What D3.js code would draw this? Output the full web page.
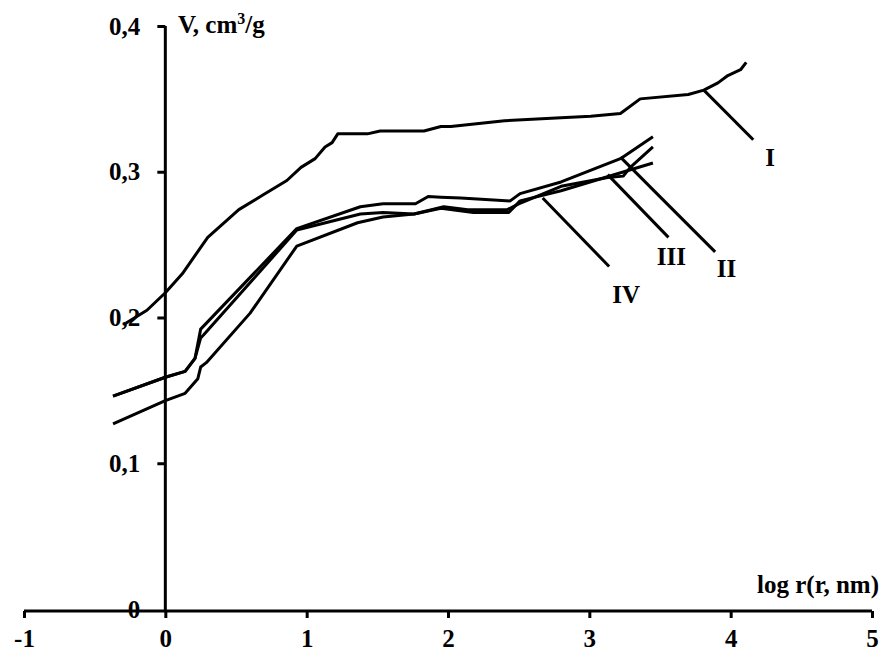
<!DOCTYPE html>
<html>
<head>
<meta charset="utf-8">
<script src="https://cdn.jsdelivr.net/npm/d3@7"></script>
<style>
  body { margin: 0; background: #fff; }
  svg text { font-family: "Liberation Serif", "Times New Roman", serif; font-weight: bold; }
</style>
</head>
<body>
<svg id="chart" width="882" height="655"></svg>
<script>
// curve data (x = log r, y = V in cm3/g)
const xI = [-0.28, -0.13, 0, 0.12, 0.3, 0.52, 0.69, 0.86, 0.96, 1.06, 1.13, 1.18, 1.22, 1.43, 1.52, 1.83, 1.95, 2.02, 2.4, 2.8, 3.01, 3.22, 3.36, 3.7, 3.81, 3.91, 3.98, 4.07, 4.11];
const yI = [0.196, 0.205, 0.217, 0.230, 0.255, 0.274, 0.284, 0.294, 0.303, 0.309, 0.317, 0.320, 0.326, 0.326, 0.328, 0.328, 0.331, 0.331, 0.335, 0.337, 0.338, 0.340, 0.350, 0.353, 0.356, 0.361, 0.366, 0.370, 0.375];

const xII = [-0.37, 0, 0.14, 0.21, 0.25, 0.93, 1.38, 1.54, 1.77, 1.86, 1.95, 2.09, 2.44, 2.51, 2.8, 3.22, 3.45];
const yII = [0.146, 0.159, 0.163, 0.172, 0.192, 0.261, 0.276, 0.278, 0.278, 0.283, 0.2825, 0.282, 0.280, 0.285, 0.293, 0.309, 0.324];

const xIII = [-0.37, 0, 0.14, 0.21, 0.25, 0.27, 0.93, 1.38, 1.54, 1.76, 1.97, 2.14, 2.42, 2.5, 2.8, 3.13, 3.24, 3.29, 3.45];
const yIII = [0.146, 0.159, 0.163, 0.172, 0.186, 0.188, 0.260, 0.271, 0.272, 0.271, 0.276, 0.274, 0.274, 0.278, 0.290, 0.296, 0.297, 0.303, 0.317];

const xIV = [-0.37, 0, 0.14, 0.23, 0.25, 0.29, 0.6, 0.93, 1.36, 1.54, 1.76, 1.95, 2.18, 2.43, 2.51, 2.8, 3.45];
const yIV = [0.127, 0.143, 0.148, 0.158, 0.166, 0.169, 0.203, 0.249, 0.265, 0.269, 0.271, 0.275, 0.272, 0.272, 0.280, 0.287, 0.306];

const curveNames = ["I", "II", "III", "IV"];
// leader lines: [x1, y1, x2, y2] and label spot [x, y], in data units
const leaderLines = [[3.81, 0.356, 4.16, 0.322], [3.22, 0.310, 3.89, 0.245], [3.13, 0.298, 3.56, 0.255], [2.67, 0.282, 3.14, 0.235]];
const labelSpots = [[4.28, 0.310], [3.97, 0.234], [3.58, 0.242], [3.26, 0.216]];

const xTicks = [-1, 0, 1, 2, 3, 4, 5];
const yTicks = [0, 0.1, 0.2, 0.3, 0.4];

const svg = d3.select("#chart");
const x = d3.scaleLinear().domain([-1, 5]).range([24, 872]);
const y = d3.scaleLinear().domain([0, 0.4]).range([609, 26]);
const fs = 25;

const fmt = d => String(d).replace(".", ",");

// x axis (line sits a hair below y = 0, as in the original)
const gx = svg.append("g")
  .attr("transform", `translate(0,${y(0) + 2})`)
  .call(d3.axisBottom(x).tickValues(xTicks).tickSize(7).tickPadding(11).tickFormat(d => d));
gx.select(".domain").attr("stroke", "#000").attr("stroke-width", 3).attr("d", `M${x(-1)},0H${x(5)}`);
gx.selectAll(".tick line").attr("stroke", "#000").attr("stroke-width", 3);
gx.selectAll(".tick text").attr("font-size", fs).attr("fill", "#000")
  .attr("font-family", "Liberation Serif, serif").attr("font-weight", "bold");

// y axis
const gy = svg.append("g")
  .attr("transform", `translate(${x(0)},0)`)
  .call(d3.axisLeft(y).tickValues(yTicks).tickSize(8).tickPadding(17).tickFormat(fmt));
gy.select(".domain").attr("stroke", "#000").attr("stroke-width", 3).attr("d", `M0,${y(0.4)}V${y(0) + 2}`);
gy.selectAll(".tick line").attr("stroke", "#000").attr("stroke-width", 3);
gy.selectAll(".tick text").attr("font-size", fs).attr("fill", "#000")
  .attr("font-family", "Liberation Serif, serif").attr("font-weight", "bold");
gy.selectAll(".tick").filter(d => d === 0).select("line").remove();

// axis titles
const yTitle = svg.append("text").attr("x", 178).attr("y", 33).attr("font-size", fs);
yTitle.append("tspan").text("V, cm");
yTitle.append("tspan").attr("font-size", 16).attr("dy", -9).text("3");
yTitle.append("tspan").attr("dy", 9).text("/g");

svg.append("text").attr("x", 879).attr("y", 593).attr("text-anchor", "end")
  .attr("font-size", fs).text("log r(r, nm)");

// curves
const series = [[xI, yI], [xII, yII], [xIII, yIII], [xIV, yIV]];
const line = d3.line().x(d => x(d[0])).y(d => y(d[1]));
svg.append("g").selectAll("path")
  .data(series)
  .join("path")
  .attr("d", s => line(s[0].map((v, i) => [v, s[1][i]])))
  .attr("fill", "none")
  .attr("stroke", "#000")
  .attr("stroke-width", 3)
  .attr("stroke-linejoin", "round");

// leader lines and roman labels
svg.append("g").selectAll("line")
  .data(leaderLines)
  .join("line")
  .attr("x1", d => x(d[0])).attr("y1", d => y(d[1]))
  .attr("x2", d => x(d[2])).attr("y2", d => y(d[3]))
  .attr("stroke", "#000").attr("stroke-width", 3);

svg.append("g").selectAll("text")
  .data(labelSpots)
  .join("text")
  .attr("x", d => x(d[0])).attr("y", d => y(d[1]))
  .attr("dy", "0.35em")
  .attr("text-anchor", "middle")
  .attr("font-size", fs)
  .text((d, i) => curveNames[i]);
</script>
</body>
</html>
